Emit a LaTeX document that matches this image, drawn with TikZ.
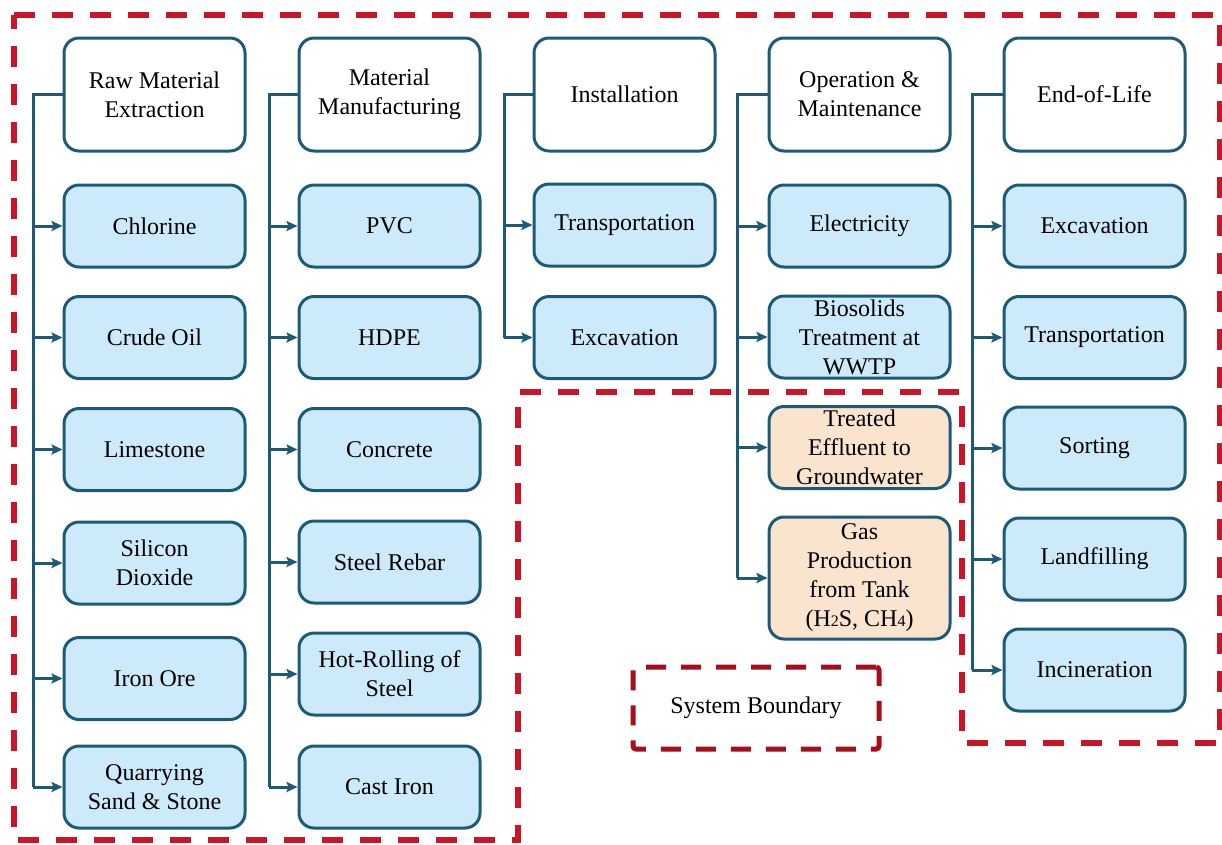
\documentclass[tikz,border=0pt]{standalone}
\usepackage{fontspec}
\setmainfont{Liberation Serif}
\newfontfamily\tnr{Liberation Serif}
\usetikzlibrary{arrows.meta}
\definecolor{edge}{RGB}{28,90,120}
\definecolor{bluefill}{RGB}{205,234,250}
\definecolor{peach}{RGB}{251,228,206}
\definecolor{bred}{RGB}{200,22,40}
\definecolor{lred}{RGB}{165,15,28}
\tikzset{
  txt/.style={font=\tnr\fontsize{24}{29}\selectfont},
  box/.style={draw=edge, line width=3pt, rounded corners=15pt, minimum width=181pt, align=center, inner sep=2pt, txt},
  headbox/.style={box, fill=white, minimum height=113pt},
  bluebox/.style={box, fill=bluefill, minimum height=82pt},
  peachbox/.style={box, fill=peach, minimum height=82pt},
  trunk/.style={draw=edge, line width=3pt},
  feed/.style={draw=edge, line width=3pt, -{Stealth[length=11pt,width=10pt,inset=2pt]}},
  boundary/.style={draw=bred, line width=5.5pt, dash pattern=on 21pt off 17pt},
}
\begin{document}
\begin{tikzpicture}[x=1pt,y=-1pt]
\useasboundingbox (0,0) rectangle (1222,844);
% system boundary
\draw[boundary] (14,15) -- (1220,15) -- (1220,743) -- (962,743) -- (962,392) -- (518,392) -- (518,840) -- (14,840) -- cycle;
% column 1
\node[headbox] (h1) at (154.5,94.5) {Raw Material\\Extraction};
\node[bluebox] (a1) at (154.5,226) {Chlorine};
\node[bluebox] (a2) at (154.5,337.5) {Crude Oil};
\node[bluebox] (a3) at (154.5,449.5) {Limestone};
\node[bluebox] (a4) at (154.5,563) {Silicon\\Dioxide};
\node[bluebox] (a5) at (154.5,678.5) {Iron Ore};
\node[bluebox] (a6) at (154.5,787) {Quarrying\\Sand \& Stone};
% column 2
\node[headbox] (h2) at (389.5,94.5) {Material\\Manufacturing};
\node[bluebox] (b1) at (389.5,226) {PVC};
\node[bluebox] (b2) at (389.5,337.5) {HDPE};
\node[bluebox] (b3) at (389.5,449.5) {Concrete};
\node[bluebox] (b4) at (389.5,562) {Steel Rebar};
\node[bluebox] (b5) at (389.5,674) {Hot-Rolling of\\Steel};
\node[bluebox] (b6) at (389.5,787) {Cast Iron};
% column 3
\node[headbox] (h3) at (624.5,94.5) {Installation};
\node[bluebox] (c1) at (624.5,225) {Transportation};
\node[bluebox] (c2) at (624.5,337.5) {Excavation};
% column 4
\node[headbox] (h4) at (859.5,94.5) {Operation \&\\Maintenance};
\node[bluebox] (d1) at (859.5,226) {Electricity};
\node[bluebox] (d2) at (859.5,337) {Biosolids\\Treatment at\\WWTP};
\node[peachbox] (d3) at (859.5,447.5) {Treated\\Effluent to\\Groundwater};
\node[peachbox, minimum height=122pt] (d4) at (859.5,578) {Gas\\Production\\from Tank\\(H{\fontsize{16}{16}\selectfont 2}S, CH{\fontsize{16}{16}\selectfont 4})};
% column 5
\node[headbox] (h5) at (1094.5,94.5) {End-of-Life};
\node[bluebox] (e1) at (1094.5,226) {Excavation};
\node[bluebox] (e2) at (1094.5,337.5) {Transportation};
\node[bluebox] (e3) at (1094.5,448) {Sorting};
\node[bluebox] (e4) at (1094.5,559) {Landfilling};
\node[bluebox] (e5) at (1094.5,670) {Incineration};
% trunks
\coordinate (t1) at (33,94.5);
\coordinate (t2) at (269,94.5);
\coordinate (t3) at (504,94.5);
\coordinate (t4) at (737,94.5);
\coordinate (t5) at (972,94.5);
\draw[trunk] (h1.west) -- (t1) -- (t1 |- a6.west);
\draw[trunk] (h2.west) -- (t2) -- (t2 |- b6.west);
\draw[trunk] (h3.west) -- (t3) -- (t3 |- c2.west);
\draw[trunk] (h4.west) -- (t4) -- (t4 |- d4.west);
\draw[trunk] (h5.west) -- (t5) -- (t5 |- e5.west);
\foreach \n in {a1,a2,a3,a4,a5,a6} \draw[feed] (t1 |- \n.west) -- (\n.west);
\foreach \n in {b1,b2,b3,b4,b5,b6} \draw[feed] (t2 |- \n.west) -- (\n.west);
\foreach \n in {c1,c2} \draw[feed] (t3 |- \n.west) -- (\n.west);
\foreach \n in {d1,d2,d3,d4} \draw[feed] (t4 |- \n.west) -- (\n.west);
\foreach \n in {e1,e2,e3,e4,e5} \draw[feed] (t5 |- \n.west) -- (\n.west);
% legend
\node[draw=lred, line width=5pt, dash pattern=on 20pt off 15pt, rounded corners=3pt, minimum width=246pt, minimum height=82pt, txt] (leg) at (756,708) {System Boundary};
\end{tikzpicture}
\end{document}
